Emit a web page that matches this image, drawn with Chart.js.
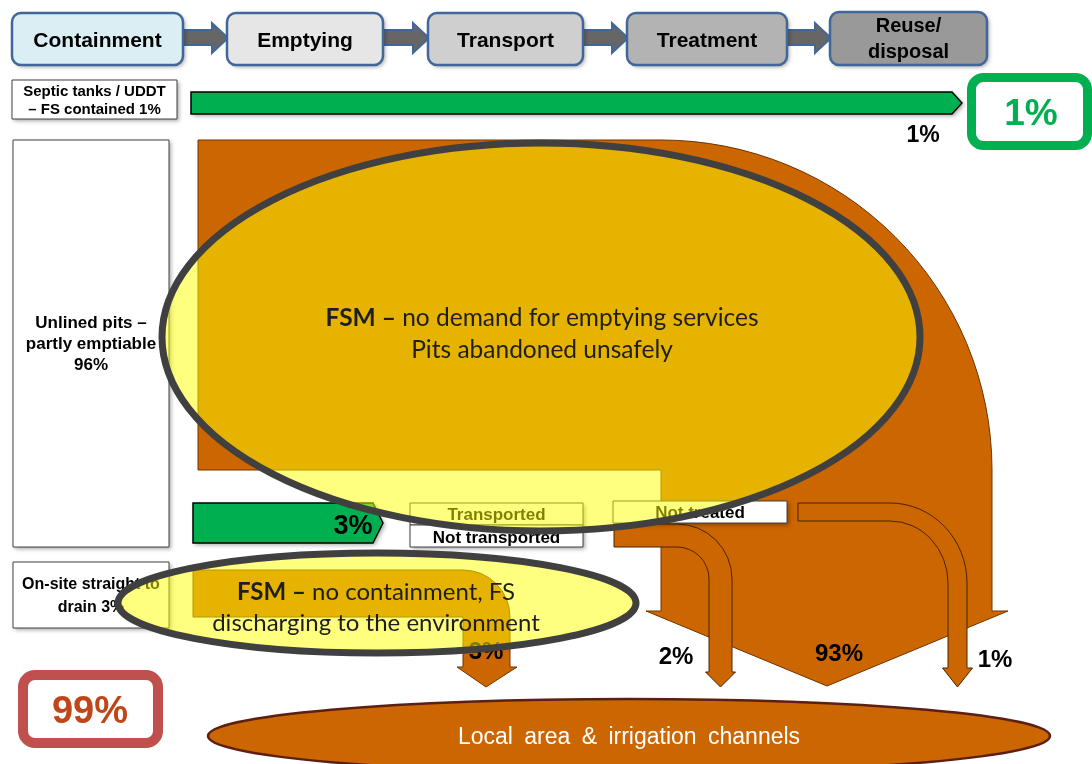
<!DOCTYPE html>
<html><head><meta charset="utf-8">
<script src="https://cdn.jsdelivr.net/npm/chart.js@4"></script>
<style>html,body{margin:0;padding:0;background:#fff;overflow:hidden}</style>
</head><body>
<canvas id="c" width="1092" height="764"></canvas>
<script>
// ---------- DATA ----------
const stageLines = [['Containment'], ['Emptying'], ['Transport'], ['Treatment'], ['Reuse/', 'disposal']];
const containmentLabels = [['Septic tanks / UDDT', '– FS contained 1%'], ['Unlined pits –', 'partly emptiable', '96%'], ['On-site straight to', 'drain 3%']];
const containmentShares = [1, 96, 3];
const safeShare = [1];
const unsafeShare = [99];
const emptiedShare = [3];
const statusLabels = ['Transported', 'Not transported', 'Not treated'];
const dischargeShares = [3, 2, 93, 1];
const fsmNote1 = [['FSM –', ' no demand for emptying services'], ['', 'Pits abandoned unsafely']];
const fsmNote2 = [['FSM –', ' no containment, FS'], ['', 'discharging to the environment']];
const destination = ['Local area & irrigation channels'];

// ---------- LAYOUT / STYLE ----------
const W = 1092, H = 764;
const ORANGE = '#cc6600', GREEN = '#00b050';
const stageBoxes = [[12,13,183,65,'#dbeef4'],[227,13,383,65,'#e6e6e6'],[428,13,583,65,'#cfcfcf'],[627,13,787,65,'#b3b3b3'],[830,12,987,65,'#999999']];
const pct = v => v + '%';

const sfdPlugin = {
  id: 'sfd',
  afterDraw(chart) {
    const ctx = chart.ctx, xs = chart.scales.x, ys = chart.scales.y;
    const X = v => xs.getPixelForValue(v), Y = v => ys.getPixelForValue(v);
    const RX = r => X(r) - X(0), RY = r => Y(r) - Y(0);
    const poly = (pts) => { ctx.beginPath(); pts.forEach((p, i) => i ? ctx.lineTo(X(p[0]), Y(p[1])) : ctx.moveTo(X(p[0]), Y(p[1]))); ctx.closePath(); };
    const rrect = (x1, y1, x2, y2, r) => { ctx.beginPath(); ctx.roundRect(X(x1), Y(y1), X(x2) - X(x1), Y(y2) - Y(y1), r); };
    const shadow = (on) => { if (on) { ctx.shadowColor = 'rgba(0,0,0,0.35)'; ctx.shadowBlur = 4; ctx.shadowOffsetX = 2; ctx.shadowOffsetY = 2; } else { ctx.shadowColor = 'transparent'; ctx.shadowBlur = 0; ctx.shadowOffsetX = 0; ctx.shadowOffsetY = 0; } };
    const text = (t, x, y, font, color, align) => { ctx.font = font; ctx.fillStyle = color; ctx.textAlign = align || 'center'; ctx.textBaseline = 'alphabetic'; ctx.fillText(t, X(x), Y(y)); };
    const ellipse = (cx, cy, rx, ry) => { ctx.beginPath(); ctx.ellipse(X(cx), Y(cy), RX(rx), RY(ry), 0, 0, Math.PI * 2); };
    const mixed = (parts, cx, y, size, color) => {
      const fb = 'bold ' + size + 'px Lato', fn = size + 'px Lato';
      ctx.font = fb; const w1 = ctx.measureText(parts[0]).width;
      ctx.font = fn; const w2 = ctx.measureText(parts[1]).width;
      let x0 = X(cx) - (w1 + w2) / 2;
      ctx.textAlign = 'left'; ctx.textBaseline = 'alphabetic'; ctx.fillStyle = color;
      ctx.font = fb; ctx.fillText(parts[0], x0, Y(y));
      ctx.font = fn; ctx.fillText(parts[1], x0 + w1, Y(y));
    };
    ctx.save();
    ctx.fillStyle = '#fff'; ctx.fillRect(0, 0, chart.width, chart.height);

    // ---- stage boxes & arrows ----
    for (let i = 0; i < stageBoxes.length - 1; i++) {
      const a = stageBoxes[i][2], b = stageBoxes[i + 1][0];
      poly([[a, 30], [b - 15, 30], [b - 15, 23], [b + 1, 38], [b - 15, 53], [b - 15, 45], [a, 45]]);
      ctx.fillStyle = '#666'; ctx.fill(); ctx.strokeStyle = '#41679a'; ctx.lineWidth = 2; ctx.stroke();
    }
    stageBoxes.forEach((b, i) => {
      shadow(true); rrect(b[0], b[1], b[2], b[3], 9); ctx.fillStyle = b[4]; ctx.fill(); shadow(false);
      ctx.strokeStyle = '#41679a'; ctx.lineWidth = 2.5; ctx.stroke();
      const lines = stageLines[i], cx = (b[0] + b[2]) / 2;
      if (lines.length === 1) text(lines[0], cx, 47, 'bold 21px "Liberation Sans"', '#000');
      else { text(lines[0], cx, 32, 'bold 20px "Liberation Sans"', '#000'); text(lines[1], cx, 58, 'bold 20px "Liberation Sans"', '#000'); }
    });

    // ---- containment label boxes ----
    const labBoxes = [[12, 80, 177, 119, 15, [96, 114]], [13, 140, 169, 547, 17, [328, 349, 370]], [13, 562, 169, 628, 16, [589, 612]]];
    labBoxes.forEach((b, i) => {
      shadow(true); ctx.beginPath(); ctx.rect(X(b[0]), Y(b[1]), X(b[2]) - X(b[0]), Y(b[3]) - Y(b[1])); ctx.fillStyle = '#fff'; ctx.fill(); shadow(false);
      ctx.strokeStyle = '#404040'; ctx.lineWidth = 1; ctx.stroke();
      containmentLabels[i].forEach((t, j) => text(t, (b[0] + b[2]) / 2, b[5][j], 'bold ' + b[4] + 'px "Liberation Sans"', '#000'));
    });

    // ---- septic 1% green arrow ----
    shadow(true); poly([[191, 92], [952, 92], [962, 103], [952, 114], [191, 114]]); ctx.fillStyle = GREEN; ctx.fill(); shadow(false);
    ctx.strokeStyle = '#000'; ctx.lineWidth = 1.5; ctx.stroke();
    text(pct(containmentShares[0]), 923, 142, 'bold 23px "Liberation Sans"', '#000');
    rrect(971.5, 77.5, 1087.5, 145.5, 12); ctx.fillStyle = '#fff'; ctx.fill(); ctx.strokeStyle = GREEN; ctx.lineWidth = 9; ctx.stroke();
    text(pct(safeShare[0]), 1031, 125, 'bold 37px "Liberation Sans"', GREEN);

    // ---- main unlined-pit flow ----
    ctx.beginPath();
    ctx.moveTo(X(198), Y(140)); ctx.lineTo(X(661), Y(140));
    ctx.ellipse(X(661), Y(470), RX(331), RY(330), 0, -Math.PI / 2, 0);
    ctx.lineTo(X(992), Y(611)); ctx.lineTo(X(1008), Y(611)); ctx.lineTo(X(827), Y(686)); ctx.lineTo(X(646), Y(611));
    ctx.lineTo(X(661), Y(611)); ctx.lineTo(X(661), Y(470)); ctx.lineTo(X(198), Y(470)); ctx.closePath();
    ctx.fillStyle = ORANGE; ctx.fill(); ctx.strokeStyle = '#6e3300'; ctx.lineWidth = 1; ctx.stroke();

    // ---- bent arrows (not treated 2%, not transported 1%) ----
    const bent = (x0, yt, yb, cx, cy, ro, roy, ri, riy, yh, hw, tipY) => {
      const xo = cx + ro, xi = cx + ri, mid = (xo + xi) / 2;
      ctx.beginPath();
      ctx.moveTo(X(x0), Y(yt)); ctx.lineTo(X(cx), Y(yt));
      ctx.ellipse(X(cx), Y(cy), RX(ro), RY(roy), 0, -Math.PI / 2, 0);
      ctx.lineTo(X(xo), Y(yh)); ctx.lineTo(X(mid + hw), Y(yh)); ctx.lineTo(X(mid), Y(tipY)); ctx.lineTo(X(mid - hw), Y(yh));
      ctx.lineTo(X(xi), Y(yh)); ctx.lineTo(X(xi), Y(cy));
      ctx.ellipse(X(cx), Y(cy), RX(ri), RY(riy), 0, 0, -Math.PI / 2, true);
      ctx.lineTo(X(x0), Y(yb)); ctx.closePath();
      ctx.fillStyle = ORANGE; ctx.fill(); ctx.strokeStyle = '#4a2200'; ctx.lineWidth = 1; ctx.stroke();
    };
    bent(614, 524, 547, 677, 579, 55, 55, 32, 32, 672, 15, 687);
    bent(798, 503, 521, 890, 583, 77, 80, 58, 62, 668, 15, 687);

    text(pct(dischargeShares[1]), 676, 664, 'bold 24px "Liberation Sans"', '#000');
    text(pct(dischargeShares[2]), 839, 661, 'bold 24px "Liberation Sans"', '#000');
    text(pct(dischargeShares[3]), 995, 667, 'bold 24px "Liberation Sans"', '#000');

    // ---- emptied 3% green arrow ----
    shadow(true); poly([[193, 503], [373, 503], [383, 523], [373, 543], [193, 543]]); ctx.fillStyle = GREEN; ctx.fill(); shadow(false);
    ctx.strokeStyle = '#000'; ctx.lineWidth = 1.5; ctx.stroke();
    text(pct(emptiedShare[0]), 353, 534, 'bold 27px "Liberation Sans"', '#000');

    // ---- status boxes ----
    const sBoxes = [[410, 503, 583, 525, 520], [410, 525, 583, 547, 543], [613, 501, 787, 523, 518]];
    sBoxes.forEach((b, i) => {
      shadow(true); ctx.beginPath(); ctx.rect(X(b[0]), Y(b[1]), X(b[2]) - X(b[0]), Y(b[3]) - Y(b[1])); ctx.fillStyle = '#fff'; ctx.fill(); shadow(false);
      ctx.strokeStyle = '#404040'; ctx.lineWidth = 1; ctx.stroke();
      text(statusLabels[i], (b[0] + b[2]) / 2, b[4], 'bold 17px "Liberation Sans"', '#000');
    });

    // ---- on-site straight to drain 3% flow ----
    ctx.beginPath();
    ctx.moveTo(X(193), Y(570)); ctx.lineTo(X(463), Y(570));
    ctx.ellipse(X(463), Y(617), RX(47), RY(47), 0, -Math.PI / 2, 0);
    ctx.lineTo(X(510), Y(667)); ctx.lineTo(X(517), Y(667)); ctx.lineTo(X(486), Y(687)); ctx.lineTo(X(457), Y(667));
    ctx.lineTo(X(463), Y(667)); ctx.lineTo(X(463), Y(617)); ctx.lineTo(X(193), Y(617)); ctx.closePath();
    ctx.fillStyle = ORANGE; ctx.fill(); ctx.strokeStyle = '#6e3300'; ctx.lineWidth = 1; ctx.stroke();
    text(pct(dischargeShares[0]), 486, 659, 'bold 24px "Liberation Sans"', '#000');

    // ---- FSM ellipses ----
    ellipse(541, 337, 379, 194); ctx.fillStyle = 'rgba(255,255,0,0.5)'; ctx.fill(); ctx.strokeStyle = '#404040'; ctx.lineWidth = 7; ctx.stroke();
    mixed(fsmNote1[0], 542, 326, 24.5, '#1e1e1e'); mixed(fsmNote1[1], 542, 358, 24.5, '#1e1e1e');
    ellipse(377, 603, 259, 50); ctx.fillStyle = 'rgba(255,255,0,0.5)'; ctx.fill(); ctx.strokeStyle = '#404040'; ctx.lineWidth = 7; ctx.stroke();
    mixed(fsmNote2[0], 376, 600, 24, '#1e1e1e'); mixed(fsmNote2[1], 376, 631, 24, '#1e1e1e');

    // ---- 99% box ----
    rrect(23, 675, 158, 743, 12); ctx.fillStyle = '#fff'; ctx.fill(); ctx.strokeStyle = '#c0504d'; ctx.lineWidth = 10; ctx.stroke();
    text(pct(unsafeShare[0]), 90, 723, 'bold 38px "Liberation Sans"', '#c0461a');

    // ---- destination ellipse ----
    ellipse(629, 736, 421, 37); ctx.fillStyle = ORANGE; ctx.fill(); ctx.strokeStyle = '#5c1f14'; ctx.lineWidth = 2.5; ctx.stroke();
    ctx.wordSpacing = '5px';
    text(destination[0], 629, 744, '23px "Liberation Sans"', '#fff');
    ctx.wordSpacing = '0px';
    ctx.restore();
  }
};

new Chart(document.getElementById('c'), {
  type: 'scatter',
  data: { datasets: [] },
  options: {
    responsive: false, animation: false, events: [],
    layout: { padding: 0 },
    plugins: { legend: { display: false }, tooltip: { enabled: false } },
    scales: {
      x: { type: 'linear', min: 0, max: W, display: false },
      y: { type: 'linear', min: 0, max: H, reverse: true, display: false }
    }
  },
  plugins: [sfdPlugin]
});
</script>
</body></html>
